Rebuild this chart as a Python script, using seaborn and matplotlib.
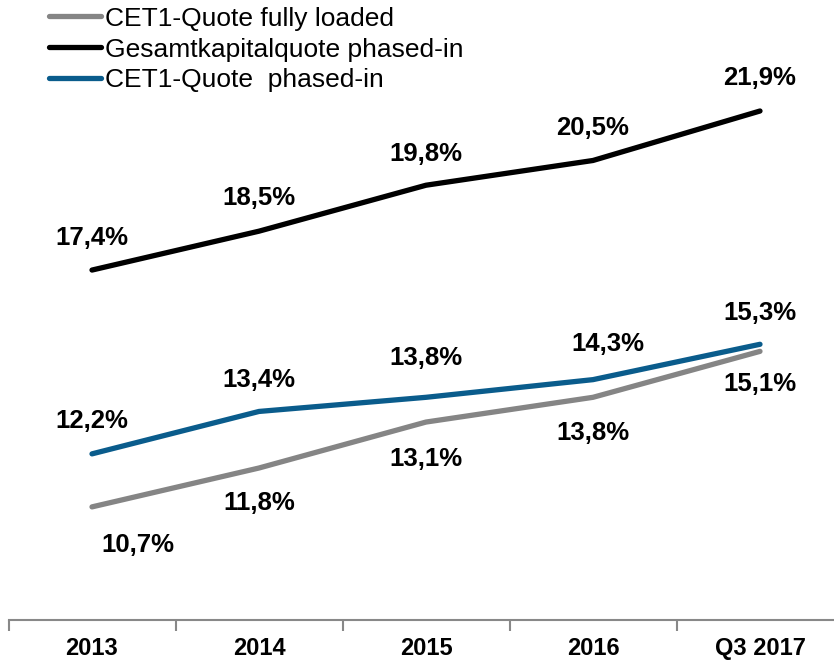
import matplotlib.pyplot as plt
import seaborn as sns
import pandas as pd

# chart data
periods = ['2013', '2014', '2015', '2016', 'Q3 2017']
cet1_fully_loaded = [10.7, 11.8, 13.1, 13.8, 15.1]
gesamtkapital_phased_in = [17.4, 18.5, 19.8, 20.5, 21.9]
cet1_phased_in = [12.2, 13.4, 13.8, 14.3, 15.3]
series_names = ['CET1-Quote fully loaded', 'Gesamtkapitalquote phased-in', 'CET1-Quote  phased-in']

# long format for seaborn
df = pd.DataFrame({
    'pos': list(range(len(periods))) * 3,
    'value': cet1_fully_loaded + gesamtkapital_phased_in + cet1_phased_in,
    'series': [s for s in series_names for _ in periods],
})

colors = {series_names[0]: '#858585', series_names[1]: '#000000', series_names[2]: '#0a5c8c'}

sns.set_style('white')
plt.rcParams['font.family'] = ['Liberation Sans', 'DejaVu Sans']
plt.rcParams['text.color'] = 'black'
plt.rcParams['xtick.color'] = 'black'

fig = plt.figure(figsize=(8.34, 6.65), dpi=100)
ax = fig.add_axes([8.5 / 834, 45 / 665, 835 / 834, 620 / 665])

sns.lineplot(data=df, x='pos', y='value', hue='series', palette=colors,
             linewidth=3.8, sort=False, ax=ax, legend=False)

# label offsets in pixels (dx, dy) for each point
label_offsets = {
    series_names[0]: [(46, -38), (0, -35), (0, -37), (0, -36), (0, -33)],
    series_names[1]: [(0, 32), (0, 33), (0, 31), (0, 32), (0, 33)],
    series_names[2]: [(0, 33), (0, 31), (0, 39), (15, 36), (0, 31)],
}
for name, vals in zip(series_names, [cet1_fully_loaded, gesamtkapital_phased_in, cet1_phased_in]):
    for i, v in enumerate(vals):
        dx, dy = label_offsets[name][i]
        ax.annotate(f'{v:.1f}%'.replace('.', ','), (i, v), xytext=(dx, dy),
                    textcoords='offset pixels', ha='center', va='center',
                    fontsize=18.5, fontweight='bold', color='black')

ax.set_xlim(-0.5, 4.5)
ax.set_ylim(7.5, 25.04)
ax.set_xlabel('')
ax.set_ylabel('')
ax.set_yticks([])
ax.set_xticks(range(len(periods)))
ax.set_xticklabels(periods, fontsize=17, fontweight='bold', color='black')
ax.tick_params(axis='x', which='major', length=0, pad=12)
ax.set_xticks([i - 0.5 for i in range(len(periods) + 1)], minor=True)
ax.tick_params(axis='x', which='minor', bottom=True, length=8, width=1.5,
               color='#888888', direction='out')
for side in ['top', 'left', 'right']:
    ax.spines[side].set_visible(False)
ax.spines['bottom'].set_color('#888888')
ax.spines['bottom'].set_linewidth(1.5)

handles = [plt.Line2D([], [], color=colors[n], linewidth=3.8) for n in series_names]
fig.legend(handles, series_names, loc='upper left', bbox_to_anchor=(46 / 834, 1 - 4 / 665),
           frameon=False, fontsize=19, handlelength=2.0, handletextpad=0.15,
           labelspacing=0.26, borderaxespad=0, borderpad=0.1)

fig.savefig('out.png', dpi=100)
